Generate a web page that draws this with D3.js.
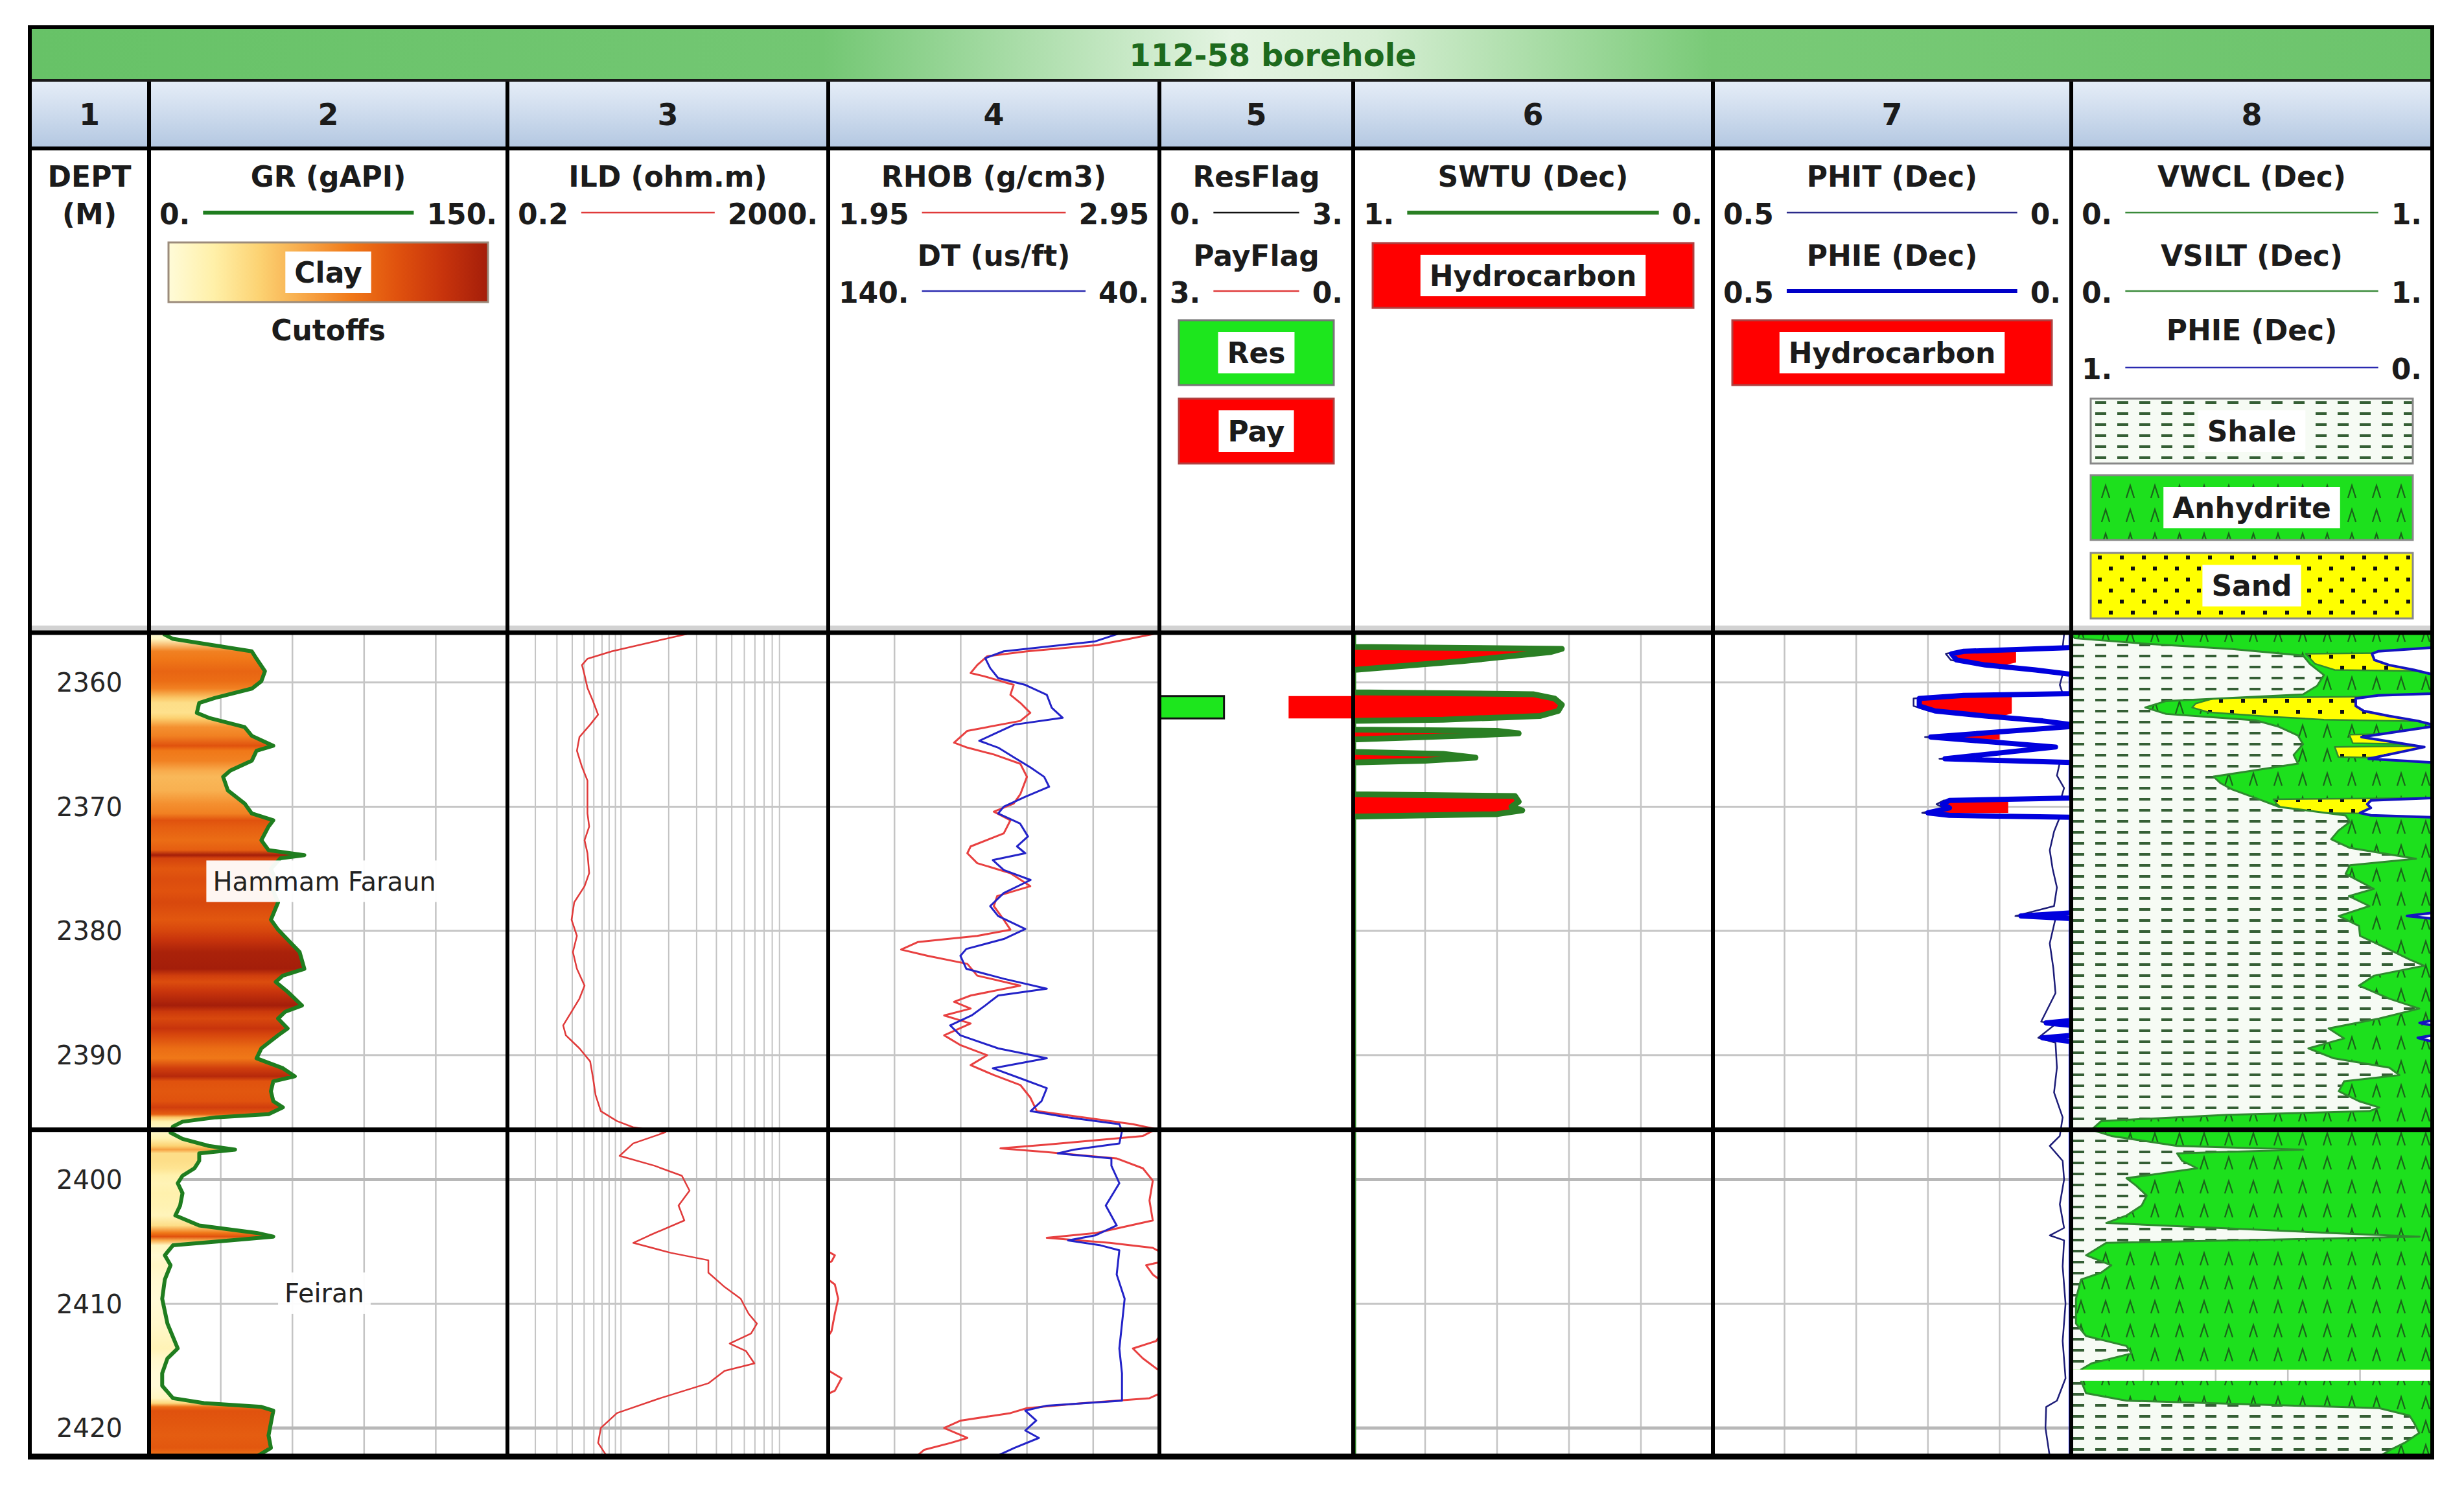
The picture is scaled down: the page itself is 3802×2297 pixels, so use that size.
<!DOCTYPE html>
<html>
<head>
<meta charset="utf-8">
<title>112-58 borehole</title>
<script src="https://cdn.jsdelivr.net/npm/d3@7"></script>
<style>
  body { margin: 0; background: #ffffff; }
  text { font-family: 'DejaVu Sans', Verdana, sans-serif; }
</style>
</head>
<body>
<div id="log"></div>
<script>
// ---------------- data (depth in m, value) ----------------
const wellName = '112-58 borehole'
const trackNumbers = ['1', '2', '3', '4', '5', '6', '7', '8']
const depthRange = [2356, 2422.3]
const depthTicks = [2360, 2370, 2380, 2390, 2400, 2410, 2420]
const majorDepthTicks = [2400, 2420]
const zoneNames = ['Hammam Faraun', 'Feiran']
const zoneTops = [2356, 2396]
const zoneBases = [2396, 2422.3]

const grScale = [0, 150]
const ildScale = [0.2, 2000]
const ildGridDecades = [1, 10, 100]
const rhobScale = [1.95, 2.95]
const dtScale = [140, 40]
const resFlagScale = [0, 3]
const payFlagScale = [3, 0]
const swScale = [1, 0]
const phiScale = [0.5, 0]
const vclScale = [0, 1]
const phiLithScale = [1, 0]

const grData = [[2356.1, 6], [2356.5, 10], [2357.5, 43], [2358.1, 45], [2359.1, 48.5], [2359.9, 47], [2360.5, 43], [2361.25, 27.6], [2361.65, 21], [2362.45, 20], [2362.85, 25], [2363.6, 40], [2364.3, 43], [2365.1, 52], [2365.5, 45], [2366.3, 43], [2367.1, 34], [2367.6, 31], [2368.7, 33], [2369.75, 40], [2370.55, 43], [2371.1, 52], [2371.6, 50], [2372.7, 47], [2373.5, 50], [2373.9, 65], [2374.15, 55], [2375.0, 51], [2375.9, 53], [2376.8, 52], [2377.7, 54], [2379.1, 51], [2379.9, 54], [2380.7, 58], [2381.7, 63], [2383.05, 65], [2383.6, 56], [2384.1, 53], [2384.9, 58], [2386.0, 64], [2386.5, 57], [2387.05, 54], [2387.85, 58], [2388.4, 54], [2389.45, 47], [2390.25, 45], [2391.05, 56], [2391.7, 61], [2392.1, 52], [2392.9, 51], [2393.7, 52], [2394.2, 56], [2394.75, 50], [2395.0, 28], [2395.35, 14], [2395.74, 10], [2396.23, 9], [2396.73, 14], [2397.3, 25], [2397.6, 36], [2397.9, 21], [2398.5, 21], [2399.1, 19], [2399.7, 14], [2400.3, 12], [2401.1, 14], [2402.1, 13], [2402.9, 11], [2403.7, 21], [2404.3, 45], [2404.6, 52], [2404.9, 34], [2405.3, 10], [2406.1, 6.6], [2406.9, 9], [2408.05, 6.6], [2409.6, 5.5], [2411.6, 7.7], [2413.6, 12], [2414.4, 7.7], [2415.6, 5.5], [2416.6, 5.5], [2417.6, 10], [2418.0, 23], [2418.3, 47], [2418.6, 52], [2419.6, 51], [2420.6, 50], [2421.6, 51], [2422.3, 45]]

const ildData = [[2356.1, 34.6], [2356.7, 13.7], [2357.5, 4.0], [2358.1, 1.99], [2358.6, 1.70], [2359.4, 1.83], [2360.45, 1.99], [2361.5, 2.33], [2362.6, 2.70], [2363.4, 2.15], [2364.4, 1.58], [2365.5, 1.47], [2366.8, 1.70], [2367.9, 1.99], [2369.2, 1.99], [2370.55, 1.99], [2371.6, 2.09], [2372.7, 1.83], [2373.75, 1.99], [2375.35, 2.09], [2376.4, 1.83], [2377.7, 1.36], [2379.1, 1.26], [2380.4, 1.47], [2381.7, 1.31], [2383.05, 1.47], [2384.4, 1.83], [2385.45, 1.58], [2386.5, 1.26], [2387.6, 0.99], [2388.4, 1.07], [2389.45, 1.58], [2390.5, 2.15], [2391.8, 2.33], [2393.2, 2.51], [2394.5, 2.92], [2395.3, 4.64], [2395.8, 7.4], [2396.2, 18.7], [2397.1, 7.4], [2398.1, 5.0], [2398.9, 13.7], [2399.7, 29.9], [2400.9, 37.3], [2402.1, 27.2], [2403.3, 32.1], [2404.5, 11.8], [2405.1, 7.4], [2405.9, 21.7], [2406.5, 64], [2407.5, 64], [2408.65, 102], [2409.6, 162], [2410.8, 203], [2411.6, 258], [2412.4, 218], [2413.2, 118], [2413.8, 188], [2414.8, 240], [2415.4, 102], [2416.4, 64], [2417.6, 16.1], [2418.8, 4.64], [2420.0, 2.92], [2421.2, 2.70], [2422.2, 3.41]]

const rhobData = [[2356.06, 2.94], [2356.6, 2.84], [2357.0, 2.76], [2357.5, 2.55], [2357.9, 2.43], [2358.6, 2.40], [2359.25, 2.38], [2359.5, 2.42], [2360.2, 2.51], [2361.0, 2.50], [2361.65, 2.53], [2362.45, 2.56], [2363.1, 2.53], [2363.9, 2.37], [2364.85, 2.33], [2365.25, 2.37], [2365.8, 2.45], [2366.55, 2.53], [2367.6, 2.55], [2369.0, 2.53], [2369.75, 2.51], [2370.4, 2.45], [2371.1, 2.50], [2372.15, 2.48], [2373.2, 2.38], [2373.75, 2.37], [2374.55, 2.40], [2375.35, 2.50], [2376.4, 2.56], [2377.2, 2.46], [2378.0, 2.45], [2379.1, 2.48], [2379.9, 2.50], [2380.4, 2.40], [2380.9, 2.22], [2381.5, 2.17], [2382.0, 2.25], [2382.65, 2.37], [2383.6, 2.40], [2384.4, 2.53], [2385.2, 2.38], [2385.7, 2.33], [2386.25, 2.38], [2386.8, 2.30], [2387.45, 2.38], [2388.4, 2.30], [2389.2, 2.35], [2390.0, 2.43], [2390.8, 2.38], [2391.6, 2.45], [2392.4, 2.53], [2393.4, 2.56], [2394.5, 2.58], [2395.0, 2.72], [2395.55, 2.87], [2395.95, 2.94], [2396.5, 2.90], [2397.2, 2.61], [2397.5, 2.47], [2397.8, 2.61], [2398.3, 2.82], [2399.1, 2.90], [2400.1, 2.93], [2401.7, 2.92], [2403.3, 2.93], [2404.3, 2.76], [2404.7, 2.61], [2405.1, 2.80], [2405.5, 2.93], [2406.1, 2.97], [2406.6, 2.96], [2406.9, 2.91], [2407.65, 2.93], [2408.45, 2.97], [2409.6, 2.98], [2410.8, 2.97], [2412.2, 2.96], [2413.0, 2.94], [2413.6, 2.87], [2414.4, 2.90], [2415.2, 2.94], [2416.0, 2.99], [2417.0, 2.97], [2417.6, 2.92], [2418.0, 2.72], [2418.4, 2.55], [2418.8, 2.50], [2419.4, 2.35], [2420.0, 2.30], [2420.8, 2.37], [2421.2, 2.32], [2421.75, 2.24], [2422.2, 2.22]]

const dtData = [[2356.06, 52.1], [2356.7, 59.4], [2357.5, 87], [2358.05, 92.6], [2358.85, 91.1], [2359.65, 88.7], [2360.2, 80.5], [2361.0, 74], [2362.05, 72.5], [2362.85, 69.2], [2363.4, 83.8], [2364.2, 90.3], [2364.7, 94.4], [2365.25, 88.7], [2366.05, 83.8], [2366.85, 78.9], [2367.6, 74.8], [2368.4, 73.3], [2369.2, 80.5], [2370.0, 87], [2370.55, 88.7], [2371.35, 82.1], [2372.4, 79.7], [2373.2, 83], [2373.75, 80.5], [2374.3, 90.3], [2375.1, 87], [2375.9, 78.9], [2376.95, 87], [2378.0, 91.1], [2378.8, 88.7], [2379.85, 80.5], [2380.65, 87], [2381.45, 98.3], [2382.0, 100.1], [2383.05, 98.3], [2383.85, 87], [2384.65, 74], [2385.2, 88.7], [2386.0, 92.6], [2386.8, 96.7], [2387.6, 103.2], [2388.4, 100.1], [2389.45, 88.7], [2390.25, 74], [2391.05, 90.3], [2391.85, 82.1], [2392.65, 74], [2393.7, 75.6], [2394.5, 78.9], [2395.0, 67.6], [2395.55, 52.1], [2396.1, 51.3], [2397.1, 52.1], [2397.6, 65.8], [2397.9, 70.7], [2398.3, 54.5], [2398.9, 54.5], [2400.3, 52.1], [2402.1, 56.2], [2403.7, 52.9], [2404.5, 59.4], [2404.9, 67.6], [2405.3, 57.8], [2405.7, 52.1], [2407.65, 52.9], [2409.6, 50.5], [2413.6, 52.1], [2415.6, 51.3], [2417.8, 51.3], [2418.2, 74], [2418.6, 80.5], [2419.4, 77.2], [2420.2, 80.5], [2420.8, 76.4], [2421.6, 83.8], [2422.2, 88.7]]

// flags: [top, base, value]
const resFlag = [[2361.1, 2362.9, 1]]
const payFlag = [[2361.1, 2362.9, 1]]

const swtuData = [[2356.1, 1], [2357.15, 1], [2357.3, 0.42], [2357.55, 0.45], [2358.3, 0.7], [2359.0, 1], [2360.8, 1], [2360.95, 0.5], [2361.3, 0.44], [2361.8, 0.42], [2362.3, 0.43], [2362.7, 0.48], [2363.0, 0.75], [2363.1, 1], [2363.8, 1], [2363.9, 0.6], [2364.1, 0.54], [2364.3, 0.7], [2364.6, 1], [2365.6, 1], [2365.75, 0.75], [2366.05, 0.66], [2366.3, 0.8], [2366.45, 1], [2369.0, 1], [2369.15, 0.55], [2369.6, 0.54], [2370.0, 0.56], [2370.3, 0.53], [2370.6, 0.6], [2370.8, 1], [2422.3, 1]]

const phieData = [[2356.1, 0], [2357.2, 0], [2357.5, 0.15], [2357.7, 0.167], [2358.2, 0.16], [2358.6, 0.12], [2359.0, 0.05], [2359.35, 0], [2360.9, 0], [2361.05, 0.15], [2361.3, 0.212], [2361.9, 0.212], [2362.3, 0.19], [2362.7, 0.12], [2363.1, 0.04], [2363.4, 0], [2363.55, 0], [2364.4, 0.196], [2365.2, 0.022], [2366.15, 0.176], [2366.45, 0], [2369.3, 0], [2369.5, 0.17], [2369.8, 0.18], [2370.1, 0.17], [2370.5, 0.2], [2370.7, 0.17], [2370.85, 0], [2378.55, 0], [2378.8, 0.07], [2379.0, 0], [2387.2, 0], [2387.4, 0.035], [2387.6, 0], [2388.4, 0], [2388.6, 0.04], [2388.9, 0], [2422.3, 0]]

const phitData = [[2356.1, 0.01], [2357.2, 0.012], [2357.5, 0.158], [2357.7, 0.175], [2358.2, 0.168], [2358.6, 0.128], [2359.0, 0.058], [2359.35, 0.012], [2360.2, 0.016], [2360.9, 0.012], [2361.05, 0.158], [2361.3, 0.22], [2361.9, 0.22], [2362.3, 0.198], [2362.7, 0.128], [2363.1, 0.048], [2363.4, 0.014], [2363.55, 0.012], [2364.4, 0.204], [2365.2, 0.03], [2366.15, 0.184], [2366.45, 0.016], [2367.5, 0.02], [2368.5, 0.01], [2369.3, 0.014], [2369.5, 0.178], [2369.8, 0.188], [2370.1, 0.178], [2370.5, 0.208], [2370.7, 0.178], [2370.85, 0.016], [2372.0, 0.024], [2373.5, 0.03], [2375.0, 0.026], [2376.5, 0.02], [2378.0, 0.024], [2378.8, 0.078], [2379.0, 0.022], [2381.0, 0.03], [2383.0, 0.025], [2385.0, 0.022], [2387.3, 0.042], [2387.5, 0.022], [2388.6, 0.046], [2389.0, 0.022], [2391.0, 0.02], [2393.0, 0.024], [2395.0, 0.012], [2396.5, 0.016], [2397.3, 0.03], [2398.5, 0.012], [2400.0, 0.01], [2402.0, 0.016], [2403.9, 0.01], [2404.5, 0.03], [2404.9, 0.01], [2407.0, 0.012], [2410.0, 0.008], [2413.0, 0.012], [2416.0, 0.008], [2417.8, 0.02], [2418.3, 0.035], [2420.0, 0.036], [2422.3, 0.03]]

// bulk volume water, limits the hydrocarbon shading in track 7
const bvwData = [[2356.1, 0.5], [2357.45, 0.5], [2357.5, 0.077], [2358.4, 0.077], [2358.7, 0.1], [2358.75, 0.5], [2361.0, 0.5], [2361.05, 0.083], [2362.5, 0.083], [2362.8, 0.1], [2362.85, 0.5], [2364.1, 0.5], [2364.15, 0.1], [2364.6, 0.1], [2364.65, 0.5], [2369.4, 0.5], [2369.45, 0.088], [2370.5, 0.088], [2370.6, 0.5], [2422.3, 0.5]]

const vwclData = [[2356.1, 0.0], [2356.45, 0.01], [2356.89, 0.205], [2357.32, 0.446], [2357.84, 0.642], [2358.54, 0.662], [2359.41, 0.70], [2360.28, 0.681], [2360.97, 0.642], [2361.5, 0.263], [2362.02, 0.205], [2362.54, 0.263], [2363.06, 0.512], [2363.58, 0.576], [2364.28, 0.628], [2364.97, 0.642], [2365.84, 0.616], [2366.54, 0.628], [2367.06, 0.512], [2367.58, 0.394], [2368.1, 0.413], [2368.62, 0.446], [2369.32, 0.512], [2370.02, 0.576], [2370.71, 0.76], [2371.23, 0.772], [2371.93, 0.74], [2372.62, 0.72], [2373.32, 0.772], [2374.19, 0.955], [2374.71, 0.772], [2375.41, 0.76], [2376.1, 0.805], [2376.62, 0.838], [2377.2, 0.769], [2378.0, 0.826], [2378.8, 0.741], [2379.6, 0.797], [2380.4, 0.80], [2381.5, 0.881], [2382.3, 0.937], [2382.8, 0.978], [2383.6, 0.839], [2384.4, 0.797], [2385.45, 0.881], [2386.25, 0.964], [2387.05, 0.853], [2387.85, 0.713], [2388.65, 0.756], [2389.45, 0.657], [2390.25, 0.727], [2391.0, 0.881], [2391.6, 0.909], [2392.1, 0.756], [2392.9, 0.741], [2393.7, 0.797], [2394.2, 0.853], [2394.5, 0.826], [2394.8, 0.433], [2395.3, 0.083], [2396.0, 0.056], [2396.5, 0.111], [2397.3, 0.293], [2397.6, 0.643], [2397.9, 0.293], [2398.5, 0.307], [2399.1, 0.349], [2399.9, 0.153], [2400.5, 0.18], [2401.3, 0.209], [2402.1, 0.195], [2402.9, 0.153], [2403.5, 0.097], [2404.3, 0.713], [2404.6, 0.965], [2405.1, 0.097], [2406.1, 0.041], [2406.9, 0.111], [2407.5, 0.083], [2408.05, 0.027], [2409.6, 0.013], [2411.6, 0.013], [2412.6, 0.041], [2413.4, 0.153], [2414.0, 0.167], [2414.8, 0.056], [2415.3, 0.027], [2416.2, 0.027], [2417.2, 0.041], [2417.8, 0.153], [2418.4, 0.853], [2419.0, 0.937], [2419.6, 0.95], [2420.4, 0.964], [2421.2, 0.923], [2421.8, 0.881], [2422.3, 0.853]]

const vsiltData = [[2356.1, 1], [2357.6, 1], [2357.7, 0.65], [2358.5, 0.675], [2359.0, 0.73], [2359.1, 1], [2361.1, 1], [2361.25, 0.40], [2361.7, 0.345], [2362.02, 0.335], [2362.4, 0.38], [2362.75, 0.55], [2363.0, 0.70], [2363.15, 1], [2364.1, 1], [2364.2, 0.77], [2364.9, 0.78], [2365.0, 1], [2365.1, 1], [2365.2, 0.73], [2366.0, 0.74], [2366.15, 1], [2369.3, 1], [2369.4, 0.56], [2369.8, 0.57], [2370.3, 0.59], [2370.5, 0.62], [2370.6, 1], [2422.3, 1]]

// intervals with no lithology output
const lithGaps = [[2415.3, 2416.2]]

// ---------------- layout ----------------
let W = 3802, H = 2297
let edges = [46, 230, 783, 1278, 1789, 2088, 2643, 3196, 3753]
let tracks = d3.range(8).map(i => ({ left: edges[i], right: edges[i + 1], mid: (edges[i] + edges[i + 1]) / 2 }))
let rows = { titleTop: 42, titleBottom: 124, numbersBottom: 229, legendBottom: 965, dataTop: 976, dataBottom: 2247 }
let ink = '#1b1b1b'

let svg = d3.select('#log').append('svg')
    .attr('width', W)
    .attr('height', H)
    .style('display', 'block')
svg.append('rect').attr('width', W).attr('height', H).attr('fill', '#fff')
let defs = svg.append('defs')

let y = d3.scaleLinear().domain(depthRange).range([rows.dataTop, rows.dataBottom])
let t = tracks
let xGR = d3.scaleLinear().domain(grScale).range([t[1].left, t[1].right])
let xILD = d3.scaleLog().domain(ildScale).range([t[2].left, t[2].right])
let xRHOB = d3.scaleLinear().domain(rhobScale).range([t[3].left, t[3].right])
let xDT = d3.scaleLinear().domain(dtScale).range([t[3].left, t[3].right])
let xRes = d3.scaleLinear().domain(resFlagScale).range([t[4].left, t[4].right])
let xPay = d3.scaleLinear().domain(payFlagScale).range([t[4].left, t[4].right])
let xSW = d3.scaleLinear().domain(swScale).range([t[5].left, t[5].right])
let xPHI = d3.scaleLinear().domain(phiScale).range([t[6].left, t[6].right])
let xV = d3.scaleLinear().domain(vclScale).range([t[7].left, t[7].right])
let xPHI8 = d3.scaleLinear().domain(phiLithScale).range([t[7].left, t[7].right])

// GR colour ramp (clay cutoffs)
let clayStops = [5, 15, 25, 35, 45, 52, 58, 64]
let clayColors = ['#fffbd8', '#fff0a8', '#fcd272', '#f7a748', '#f07818', '#e0520e', '#c8340c', '#a41e0a']
let grColor = d3.scaleLinear().domain(clayStops).range(clayColors).clamp(true)

// ---------------- defs ----------------
let titleGrad = defs.append('linearGradient').attr('id', 'titleGrad')
titleGrad.selectAll('stop')
    .data([[0, '#67c267'], [0.33, '#73c773'], [0.5, '#e4f4e2'], [0.56, '#d6eed3'], [0.7, '#79ca77'], [1, '#6cc46c']])
    .join('stop')
    .attr('offset', d => d[0])
    .attr('stop-color', d => d[1])

let numGrad = defs.append('linearGradient').attr('id', 'numGrad')
    .attr('x1', 0).attr('x2', 0).attr('y1', 0).attr('y2', 1)
numGrad.append('stop').attr('offset', 0).attr('stop-color', '#e6eef8')
numGrad.append('stop').attr('offset', 1).attr('stop-color', '#b3c7e1')

let clayGrad = defs.append('linearGradient').attr('id', 'clayGrad')
clayGrad.selectAll('stop')
    .data(clayColors)
    .join('stop')
    .attr('offset', (d, i) => i / (clayColors.length - 1))
    .attr('stop-color', d => d)

let grGrad = defs.append('linearGradient').attr('id', 'grFill')
    .attr('gradientUnits', 'userSpaceOnUse')
    .attr('x1', 0).attr('x2', 0)
    .attr('y1', rows.dataTop).attr('y2', rows.dataBottom)
grGrad.selectAll('stop')
    .data(grData)
    .join('stop')
    .attr('offset', d => (y(d[0]) - rows.dataTop) / (rows.dataBottom - rows.dataTop))
    .attr('stop-color', d => grColor(d[1]))

let shalePat = defs.append('pattern').attr('id', 'shale').attr('patternUnits', 'userSpaceOnUse')
    .attr('width', 34).attr('height', 17)
shalePat.append('rect').attr('width', 34).attr('height', 17).attr('fill', '#f6fbf4')
shalePat.append('rect').attr('x', 3).attr('y', 7).attr('width', 17).attr('height', 4).attr('fill', '#355f35')

let anhyPat = defs.append('pattern').attr('id', 'anhy').attr('patternUnits', 'userSpaceOnUse')
    .attr('width', 38).attr('height', 37)
anhyPat.append('rect').attr('width', 38).attr('height', 37).attr('fill', '#1de01d')
anhyPat.append('path').attr('d', 'M13,28 L19,9 L25,28').attr('fill', 'none')
    .attr('stroke', '#1a641a').attr('stroke-width', 2.3)

let sandPat = defs.append('pattern').attr('id', 'sand').attr('patternUnits', 'userSpaceOnUse')
    .attr('width', 34).attr('height', 34)
sandPat.append('rect').attr('width', 34).attr('height', 34).attr('fill', '#ffff00')
sandPat.append('rect').attr('x', 7).attr('y', 7).attr('width', 6).attr('height', 6).attr('fill', '#111')
sandPat.append('rect').attr('x', 24).attr('y', 24).attr('width', 6).attr('height', 6).attr('fill', '#111')

tracks.forEach((tr, i) => {
    defs.append('clipPath').attr('id', 'clip' + i)
        .append('rect')
        .attr('x', tr.left).attr('y', rows.dataTop)
        .attr('width', tr.right - tr.left).attr('height', rows.dataBottom - rows.dataTop)
})

let lithBands = [depthRange[0], ...lithGaps.flat(), depthRange[1]]
let lithClip = defs.append('clipPath').attr('id', 'clipLith')
for (let k = 0; k < lithBands.length; k += 2) {
    lithClip.append('rect')
        .attr('x', t[7].left).attr('y', y(lithBands[k]))
        .attr('width', t[7].right - t[7].left)
        .attr('height', y(lithBands[k + 1]) - y(lithBands[k]))
}

let phieArea = d3.area().y(d => y(d[0])).x0(xPHI(0)).x1(d => xPHI(d[1]))
defs.append('clipPath').attr('id', 'phieClip').append('path').attr('d', phieArea(phieData))

// ---------------- header ----------------
svg.append('rect')
    .attr('x', edges[0]).attr('y', rows.titleTop)
    .attr('width', edges[8] - edges[0]).attr('height', rows.titleBottom - rows.titleTop)
    .attr('fill', 'url(#titleGrad)')
svg.append('text')
    .attr('x', 1964).attr('y', (rows.titleTop + rows.titleBottom) / 2 + 2)
    .attr('dy', '0.36em')
    .attr('text-anchor', 'middle')
    .attr('font-size', 48).attr('font-weight', 'bold')
    .attr('fill', '#1d6a1d')
    .text(wellName)

svg.append('rect')
    .attr('x', edges[0]).attr('y', rows.titleBottom)
    .attr('width', edges[8] - edges[0]).attr('height', rows.numbersBottom - rows.titleBottom)
    .attr('fill', 'url(#numGrad)')
svg.selectAll('text.num')
    .data(tracks)
    .join('text')
    .attr('class', 'num')
    .attr('x', d => d.mid).attr('y', (rows.titleBottom + rows.numbersBottom) / 2)
    .attr('dy', '0.36em')
    .attr('text-anchor', 'middle')
    .attr('font-size', 46).attr('font-weight', 'bold')
    .attr('fill', ink)
    .text((d, i) => trackNumbers[i])

function fmt(v) {
    return Number.isInteger(v) ? v + '.' : String(v)
}

function legendTitle(tr, yy, label) {
    svg.append('text')
        .attr('x', tr.mid).attr('y', yy).attr('dy', '0.36em')
        .attr('text-anchor', 'middle')
        .attr('font-size', 44).attr('font-weight', 'bold')
        .attr('fill', ink)
        .text(label)
}

function legendScale(tr, yy, domain, color, width) {
    let g = svg.append('g')
        .attr('font-size', 44).attr('font-weight', 'bold').attr('fill', ink)
    let l = g.append('text').attr('x', tr.left + 16).attr('y', yy).attr('dy', '0.36em').text(fmt(domain[0]))
    let r = g.append('text').attr('x', tr.right - 16).attr('y', yy).attr('dy', '0.36em')
        .attr('text-anchor', 'end').text(fmt(domain[1]))
    let lw = l.node().getComputedTextLength()
    let rw = r.node().getComputedTextLength()
    g.append('line')
        .attr('x1', tr.left + 16 + lw + 20).attr('x2', tr.right - 16 - rw - 20)
        .attr('y1', yy - 2).attr('y2', yy - 2)
        .attr('stroke', color).attr('stroke-width', width)
}

function legendBox(tr, y0, y1, fill, label, stroke) {
    let g = svg.append('g')
    g.append('rect')
        .attr('x', tr.left + 30).attr('y', y0)
        .attr('width', tr.right - tr.left - 60).attr('height', y1 - y0)
        .attr('fill', fill).attr('stroke', stroke).attr('stroke-width', 3)
    let txt = g.append('text')
        .attr('x', tr.mid).attr('y', (y0 + y1) / 2).attr('dy', '0.36em')
        .attr('text-anchor', 'middle')
        .attr('font-size', 44).attr('font-weight', 'bold')
        .attr('fill', ink)
        .text(label)
    let w = txt.node().getComputedTextLength()
    g.insert('rect', 'text')
        .attr('x', tr.mid - w / 2 - 14).attr('y', (y0 + y1) / 2 - 32)
        .attr('width', w + 28).attr('height', 64)
        .attr('fill', '#fff')
}

let rowA = 272, scaleA = 330, rowB = 394, scaleB = 451, rowC = 509, scaleC = 569

legendTitle(t[0], rowA, 'DEPT')
legendTitle(t[0], scaleA, '(M)')

legendTitle(t[1], rowA, 'GR (gAPI)')
legendScale(t[1], scaleA, grScale, '#1f7d1f', 6)
legendBox(t[1], 374, 466, 'url(#clayGrad)', 'Clay', '#9b8b7b')
legendTitle(t[1], rowC, 'Cutoffs')

legendTitle(t[2], rowA, 'ILD (ohm.m)')
legendScale(t[2], scaleA, ildScale, '#e03a3a', 2.5)

legendTitle(t[3], rowA, 'RHOB (g/cm3)')
legendScale(t[3], scaleA, rhobScale, '#e03a3a', 2.5)
legendTitle(t[3], rowB, 'DT (us/ft)')
legendScale(t[3], scaleB, dtScale, '#2a2ab0', 2.5)

legendTitle(t[4], rowA, 'ResFlag')
legendScale(t[4], scaleA, resFlagScale, '#111', 2.5)
legendTitle(t[4], rowB, 'PayFlag')
legendScale(t[4], scaleB, payFlagScale, '#e03a3a', 2.5)
legendBox(t[4], 494, 594, '#1de61d', 'Res', '#777')
legendBox(t[4], 615, 715, '#ff0000', 'Pay', '#b04040')

legendTitle(t[5], rowA, 'SWTU (Dec)')
legendScale(t[5], scaleA, swScale, '#2a7f24', 6)
legendBox(t[5], 375, 475, '#ff0000', 'Hydrocarbon', '#b04040')

legendTitle(t[6], rowA, 'PHIT (Dec)')
legendScale(t[6], scaleA, phiScale, '#2a2a8a', 2.5)
legendTitle(t[6], rowB, 'PHIE (Dec)')
legendScale(t[6], scaleB, phiScale, '#0000c8', 6)
legendBox(t[6], 494, 594, '#ff0000', 'Hydrocarbon', '#b04040')

legendTitle(t[7], rowA, 'VWCL (Dec)')
legendScale(t[7], scaleA, vclScale, '#3a8a3a', 2.5)
legendTitle(t[7], rowB, 'VSILT (Dec)')
legendScale(t[7], scaleB, vclScale, '#3a8a3a', 2.5)
legendTitle(t[7], rowC, 'PHIE (Dec)')
legendScale(t[7], scaleC, phiLithScale, '#2a2ab0', 2.5)
legendBox(t[7], 615, 715, 'url(#shale)', 'Shale', '#888')
legendBox(t[7], 733, 833, 'url(#anhy)', 'Anhydrite', '#888')
legendBox(t[7], 853, 954, 'url(#sand)', 'Sand', '#888')

// band between header and data
svg.append('rect')
    .attr('x', edges[0]).attr('y', rows.legendBottom)
    .attr('width', edges[8] - edges[0]).attr('height', rows.dataTop - rows.legendBottom)
    .attr('fill', '#d2d2d2')

// ---------------- grids ----------------
let w3 = t[2].right - t[2].left
let ildGrid = d3.scaleLog().domain(ildGridDecades)
    .range([t[2].left - 0.028 * w3, t[2].left + 0.354 * w3, t[2].left + 0.848 * w3])
let ildGridValues = d3.merge([1, 10].map(k => d3.range(2, 11).map(m => m * k)))

;[1, 2, 3, 5, 6, 7].forEach(i => {
    let tr = tracks[i]
    let g = svg.append('g').attr('clip-path', `url(#clip${i})`)
    let xs, vals
    if (i == 2) {
        xs = ildGrid
        vals = ildGridValues
    } else {
        xs = d3.scaleLinear().domain([0, 5]).range([tr.left, tr.right])
        vals = [1, 2, 3, 4]
    }
    g.selectAll('line.v')
        .data(vals)
        .join('line')
        .attr('x1', d => xs(d)).attr('x2', d => xs(d))
        .attr('y1', rows.dataTop).attr('y2', rows.dataBottom)
        .attr('stroke', '#c4c4c4').attr('stroke-width', i == 2 ? 2 : 2.5)
    g.selectAll('line.h')
        .data(depthTicks)
        .join('line')
        .attr('x1', tr.left).attr('x2', tr.right)
        .attr('y1', d => y(d)).attr('y2', d => y(d))
        .attr('stroke', d => majorDepthTicks.includes(d) ? '#b8b8b8' : '#c6c6c6')
        .attr('stroke-width', d => majorDepthTicks.includes(d) ? 5 : 3)
})

// depth labels
svg.selectAll('text.depth')
    .data(depthTicks)
    .join('text')
    .attr('class', 'depth')
    .attr('x', t[0].mid).attr('y', d => y(d))
    .attr('dy', '0.36em')
    .attr('text-anchor', 'middle')
    .attr('font-size', 40)
    .attr('fill', '#262626')
    .text(d => d)

function line(g, data, xs, color, width) {
    g.append('path')
        .datum(data)
        .attr('d', d3.line().x(d => xs(d[1])).y(d => y(d[0])))
        .attr('fill', 'none')
        .attr('stroke', color)
        .attr('stroke-width', width)
        .attr('stroke-linejoin', 'round')
}

// ---------------- track 2: GR ----------------
let g2 = svg.append('g').attr('clip-path', 'url(#clip1)')
g2.append('path')
    .datum(grData)
    .attr('d', d3.area().y(d => y(d[0])).x0(xGR(0)).x1(d => xGR(d[1])))
    .attr('fill', 'url(#grFill)')
line(g2, grData, xGR, '#1f7d1f', 6)

// ---------------- track 3: ILD ----------------
let g3 = svg.append('g').attr('clip-path', 'url(#clip2)')
line(g3, ildData, xILD, '#e03a3a', 2.5)

// ---------------- track 4: RHOB / DT ----------------
let g4 = svg.append('g').attr('clip-path', 'url(#clip3)')
let rhobSpan = rhobScale[1] - rhobScale[0]
line(g4, rhobData.map(d => [d[0], d[1] - rhobSpan]), xRHOB, '#e84040', 3)
line(g4, rhobData, xRHOB, '#e84040', 3)
line(g4, dtData, xDT, '#2323c8', 3)

// ---------------- track 5: flags ----------------
let g5 = svg.append('g').attr('clip-path', 'url(#clip4)')
g5.selectAll('rect.res')
    .data(resFlag)
    .join('rect')
    .attr('class', 'res')
    .attr('x', xRes(0)).attr('y', d => y(d[0]))
    .attr('width', d => xRes(d[2]) - xRes(0)).attr('height', d => y(d[1]) - y(d[0]))
    .attr('fill', '#1de61d').attr('stroke', '#111').attr('stroke-width', 3)
g5.selectAll('rect.pay')
    .data(payFlag)
    .join('rect')
    .attr('class', 'pay')
    .attr('x', d => xPay(d[2])).attr('y', d => y(d[0]))
    .attr('width', d => xPay(0) - xPay(d[2])).attr('height', d => y(d[1]) - y(d[0]))
    .attr('fill', '#ff0000')

// ---------------- track 6: SWTU ----------------
let g6 = svg.append('g').attr('clip-path', 'url(#clip5)')
g6.append('path')
    .datum(swtuData)
    .attr('d', d3.area().y(d => y(d[0])).x0(xSW(1)).x1(d => xSW(d[1])))
    .attr('fill', '#ff0000')
line(g6, swtuData, xSW, '#2a7f24', 9)

// ---------------- track 7: PHIT / PHIE ----------------
let g7 = svg.append('g').attr('clip-path', 'url(#clip6)')
g7.append('g').attr('clip-path', 'url(#phieClip)')
    .append('path')
    .datum(bvwData)
    .attr('d', d3.area().y(d => y(d[0])).x0(d => xPHI(d[1])).x1(xPHI(0.5)))
    .attr('fill', '#ff0000')
line(g7, phitData, xPHI, '#1c1c78', 2.5)
line(g7, phieData, xPHI, '#0000dd', 8)

// ---------------- track 8: lithology ----------------
let g8 = svg.append('g').attr('clip-path', 'url(#clip7)')
    .append('g').attr('clip-path', 'url(#clipLith)')
g8.append('rect')
    .attr('x', xV(0)).attr('y', rows.dataTop)
    .attr('width', xV(1) - xV(0)).attr('height', rows.dataBottom - rows.dataTop)
    .attr('fill', 'url(#sand)')
g8.append('path')
    .datum(vsiltData)
    .attr('d', d3.area().y(d => y(d[0])).x0(xV(0)).x1(d => xV(d[1])))
    .attr('fill', 'url(#anhy)')
line(g8, vsiltData, xV, '#2f8a2f', 2.5)
g8.append('path')
    .datum(vwclData)
    .attr('d', d3.area().y(d => y(d[0])).x0(xV(0)).x1(d => xV(d[1])))
    .attr('fill', 'url(#shale)')
line(g8, vwclData, xV, '#2f8a2f', 3)
g8.append('path')
    .datum(phieData)
    .attr('d', d3.area().y(d => y(d[0])).x0(xPHI8(0)).x1(d => xPHI8(d[1])))
    .attr('fill', '#ffffff')
line(g8, phieData, xPHI8, '#1414c0', 4)

// ---------------- zones ----------------
zoneTops.slice(1).forEach(d => {
    svg.append('line')
        .attr('x1', edges[0]).attr('x2', edges[8])
        .attr('y1', y(d)).attr('y2', y(d))
        .attr('stroke', '#000').attr('stroke-width', 7)
})

// ---------------- frames ----------------
svg.append('g')
    .selectAll('line')
    .data(edges.slice(1, 8))
    .join('line')
    .attr('x1', d => d).attr('x2', d => d)
    .attr('y1', rows.titleBottom).attr('y2', rows.dataBottom)
    .attr('stroke', '#000').attr('stroke-width', 6)
svg.append('line')
    .attr('x1', edges[0]).attr('x2', edges[8])
    .attr('y1', rows.titleBottom).attr('y2', rows.titleBottom)
    .attr('stroke', '#1a1a1a').attr('stroke-width', 4)
svg.append('line')
    .attr('x1', edges[0]).attr('x2', edges[8])
    .attr('y1', rows.numbersBottom).attr('y2', rows.numbersBottom)
    .attr('stroke', '#000').attr('stroke-width', 6)
svg.append('line')
    .attr('x1', edges[0]).attr('x2', edges[8])
    .attr('y1', rows.dataTop).attr('y2', rows.dataTop)
    .attr('stroke', '#000').attr('stroke-width', 7)
svg.append('rect')
    .attr('x', edges[0]).attr('y', rows.titleTop)
    .attr('width', edges[8] - edges[0]).attr('height', rows.dataBottom - rows.titleTop)
    .attr('fill', 'none').attr('stroke', '#000').attr('stroke-width', 6)
svg.append('line')
    .attr('x1', edges[0] - 3).attr('x2', edges[8] + 3)
    .attr('y1', rows.dataBottom).attr('y2', rows.dataBottom)
    .attr('stroke', '#000').attr('stroke-width', 9)

// zone labels on top of GR track
zoneNames.forEach((name, i) => {
    let mid = (zoneTops[i] + zoneBases[i]) / 2
    let g = svg.append('g')
    let txt = g.append('text')
        .attr('x', t[1].mid - 6).attr('y', y(mid))
        .attr('dy', '0.36em')
        .attr('text-anchor', 'middle')
        .attr('font-size', 40)
        .attr('fill', '#222')
        .text(name)
    let w = txt.node().getComputedTextLength()
    g.insert('rect', 'text')
        .attr('x', t[1].mid - 6 - w / 2 - 10).attr('y', y(mid) - 32)
        .attr('width', w + 20).attr('height', 64)
        .attr('fill', '#fff').attr('opacity', 0.95)
})
</script>
</body>
</html>
